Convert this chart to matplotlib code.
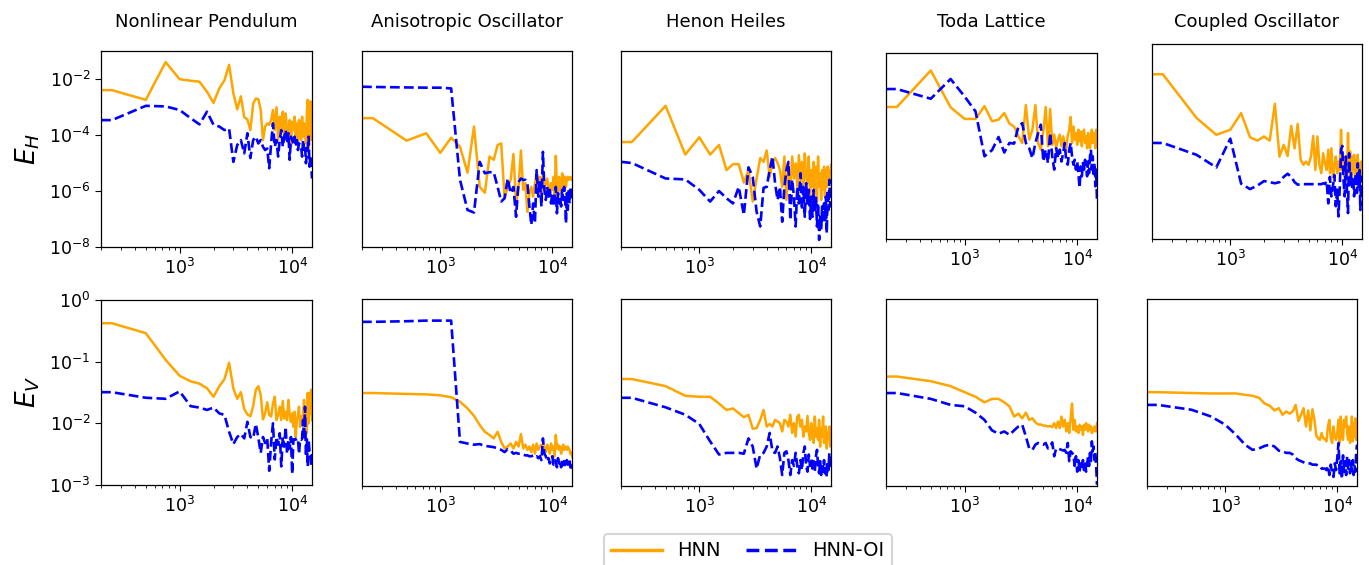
import matplotlib
matplotlib.use('Agg')
import matplotlib.pyplot as plt
import matplotlib.ticker as mticker
import numpy as np

# training set sizes (x axis)
steps = [200, 250, 500, 750, 1000, 1250, 1500, 1750, 2000, 2250,
         2500, 2750, 3000, 3250, 3500, 3750, 4000, 4250, 4500, 4750,
         5000, 5250, 5500, 5750, 6000, 6250, 6500, 6750, 7000, 7250,
         7500, 7750, 8000, 8250, 8500, 8750, 9000, 9250, 9500, 9750,
         10000, 10250, 10500, 10750, 11000, 11250, 11500, 11750, 12000, 12250,
         12500, 12750, 13000, 13250, 13500, 13750, 14000, 14250, 14500, 14750,
         15000]

systems = ['Nonlinear Pendulum', 'Anisotropic Oscillator', 'Henon Heiles',
           'Toda Lattice', 'Coupled Oscillator']

# ---- E_H (top row) ----
eh_hnn_np = [4e-3, 4e-3, 1.8e-3, 4e-2, 9.8e-3, 8.7e-3, 8e-3, 3.5e-3, 1.4e-3, 4.6e-3,
             9e-3, 3.2e-2, 3.1e-3, 8.3e-4, 2.4e-3, 4.3e-4, 3.6e-4, 1.5e-4, 1.3e-3, 2e-3,
             1.9e-3, 8e-4, 6.6e-5, 2e-4, 2.6e-4, 2.3e-4, 3.4e-4, 7.8e-4, 1.5e-4, 9.8e-4,
             6.6e-5, 4.5e-4, 1.7e-4, 6.8e-4, 8.7e-5, 5.9e-4, 1.5e-4, 6.6e-5, 3.4e-4, 3.8e-5,
             3e-4, 1.5e-4, 4.5e-4, 8.7e-5, 2.6e-4, 5e-5, 3.4e-4, 1.5e-4, 6.6e-5, 4.5e-4,
             8.7e-5, 2.6e-4, 1.5e-4, 5e-5, 5.9e-4, 1.8e-3, 2.2e-5, 1.5e-4, 1.6e-3, 6.6e-5,
             1.2e-3]
eh_oi_np = [3.4e-4, 3.4e-4, 1.1e-3, 1.05e-3, 7.8e-4, 4e-4, 2.4e-4, 6.8e-4, 2.3e-4, 2e-4,
            1.5e-4, 1.7e-4, 1.1e-5, 4.4e-5, 6.6e-5, 2.2e-5, 1.15e-4, 1.5e-5, 6.6e-5, 8.7e-5,
            5e-5, 6.6e-5, 3.8e-5, 2.9e-5, 3.3e-5, 6.5e-6, 5e-5, 2.6e-4, 3.8e-5, 6.6e-5,
            1.7e-5, 6.6e-5, 1.5e-4, 3.8e-5, 8.7e-5, 1.5e-4, 5e-5, 1.15e-4, 1.3e-5, 8.7e-5,
            6.6e-5, 5e-5, 8.7e-5, 3.8e-5, 6.6e-5, 2.9e-5, 5e-5, 4.4e-5, 3.8e-5, 1.7e-5,
            6.6e-5, 2.9e-5, 4.4e-5, 9.8e-6, 2.2e-5, 3.8e-5, 8.7e-5, 7.4e-6, 1.7e-5, 9.8e-6,
            2.8e-6]

eh_hnn_ao = [4e-4, 4e-4, 6.3e-5, 1.15e-4, 2.3e-5, 8e-5, 3.8e-5, 4.5e-6, 2e-4, 1.4e-6,
             8.7e-7, 1.7e-5, 1.3e-5, 4.4e-5, 5e-5, 5.5e-7, 1.4e-6, 2.5e-6, 2.1e-5, 3.6e-7,
             1.4e-6, 2.8e-5, 1.1e-6, 1.9e-6, 1.8e-7, 8.3e-7, 1.4e-6, 6.3e-7, 1.9e-6, 4.3e-6,
             1.4e-6, 3.2e-6, 6.3e-7, 4.3e-6, 1.1e-6, 1.9e-6, 2.8e-6, 1.4e-6, 6.3e-7, 1.9e-6,
             1.1e-6, 3.2e-6, 4.8e-7, 1.8e-5, 1.4e-6, 6.3e-7, 3.2e-6, 1.9e-6, 8.3e-7, 4.3e-6,
             2.5e-6, 1.1e-6, 3.2e-6, 1.4e-6, 2.8e-6, 3.2e-6, 2.5e-6, 2.8e-6, 3.2e-6, 2.5e-6,
             2.8e-6]
eh_oi_ao = [5.3e-3, 5.2e-3, 5e-3, 4.9e-3, 4.9e-3, 4.6e-3, 2.5e-6, 2.1e-7, 1.7e-7, 1.1e-5,
            4.3e-6, 4.7e-6, 4.7e-6, 1.4e-6, 4.2e-7, 5.5e-7, 2.8e-6, 8.3e-7, 1.4e-6, 1.2e-7,
            2.1e-6, 2.8e-6, 2.5e-6, 2.5e-6, 1.9e-6, 2.8e-7, 6.1e-8, 3.6e-7, 7.1e-8, 5.6e-6,
            6.3e-7, 2.5e-6, 2.8e-7, 2.5e-5, 1.1e-6, 4.8e-7, 1.4e-6, 6.3e-7, 1.1e-6, 3.6e-7,
            8.3e-7, 2.8e-7, 6.3e-7, 1.4e-6, 1.6e-7, 8.3e-7, 3.6e-7, 6.3e-7, 2.8e-7, 1.1e-6,
            4.8e-7, 1.4e-6, 6.3e-7, 7.1e-8, 8.3e-7, 2.1e-7, 1.1e-6, 3.6e-7, 1.4e-6, 4.8e-7,
            8.3e-7]

eh_hnn_hh = [5.6e-5, 5.6e-5, 1.1e-3, 2e-5, 8.3e-5, 2e-5, 4.4e-5, 5.6e-6, 9.1e-6, 9.1e-6,
             2e-6, 5.6e-6, 4.2e-7, 2.8e-6, 1.5e-5, 1.1e-5, 2.8e-5, 3.2e-6, 1.1e-5, 1.5e-5,
             1e-5, 5.6e-6, 1.4e-6, 1.7e-5, 4.8e-7, 9.8e-6, 1.1e-6, 1.7e-5, 2.8e-6, 9.8e-6,
             1.4e-6, 1.9e-5, 2.5e-6, 1.1e-5, 1.1e-6, 2.2e-5, 3.2e-6, 1.9e-6, 1.7e-5, 6.3e-7,
             5.6e-6, 1.4e-6, 1.1e-5, 8.3e-7, 7.4e-6, 4.2e-7, 1.7e-5, 1.4e-6, 4.3e-6, 4.8e-7,
             5.6e-6, 1.1e-6, 7.4e-6, 6.3e-7, 5.6e-6, 1.4e-6, 7.4e-6, 3.2e-6, 5.6e-6, 1.9e-6,
             8.5e-6]
eh_oi_hh = [1.1e-5, 1e-5, 2.8e-6, 2.6e-6, 1.1e-6, 4.2e-7, 1e-6, 5.5e-7, 3.6e-7, 1.4e-6,
            1.4e-7, 7e-6, 3.2e-6, 1.8e-7, 5.4e-8, 1.3e-6, 1.4e-6, 5.6e-6, 1.7e-5, 1.9e-6,
            4.8e-7, 1.4e-6, 8e-8, 1.4e-6, 5.6e-6, 1.1e-5, 9.1e-8, 2.5e-6, 6.3e-7, 5.4e-8,
            1.4e-6, 3.6e-7, 4.3e-6, 2.1e-7, 1.4e-6, 1.2e-7, 1.9e-6, 3.6e-7, 1.1e-6, 1e-7,
            6.3e-7, 1.2e-7, 1.1e-6, 2.1e-7, 6.3e-7, 5.4e-8, 3.6e-7, 1.8e-8, 1.2e-7, 4.1e-8,
            2.8e-7, 7.1e-8, 3.6e-7, 9.1e-8, 6.3e-7, 3.1e-8, 1.1e-6, 2.1e-7, 2.5e-6, 2.8e-7,
            8.3e-7]

eh_hnn_tl = [9.3e-4, 9.3e-4, 2.2e-2, 9e-4, 3.3e-4, 3.3e-4, 1e-3, 2.7e-4, 3.1e-4, 5.5e-4,
             2.2e-4, 1.7e-4, 7.3e-5, 4.1e-5, 1.1e-3, 5.5e-5, 1.3e-4, 1.1e-3, 4.1e-5, 2.3e-5,
             1.1e-4, 9.3e-4, 3.1e-5, 7.8e-4, 3.5e-5, 8.5e-5, 2.6e-5, 5.5e-5, 8.5e-5, 3.1e-5,
             7.3e-5, 4.1e-5, 2.6e-5, 7.8e-5, 1.3e-4, 3.9e-4, 4.1e-5, 1.7e-4, 5.5e-5, 9.8e-5,
             3.5e-5, 1.3e-4, 4.8e-5, 1.1e-4, 3.1e-5, 9.8e-5, 1.3e-4, 4.1e-5, 7.3e-5, 2.6e-5,
             9.8e-5, 5.5e-5, 2.6e-5, 6.3e-5, 1.3e-4, 4.1e-5, 9.8e-5, 5.5e-5, 2.6e-5, 1.3e-4,
             5.5e-5]
eh_oi_tl = [4.4e-3, 4.4e-3, 1.9e-3, 1.05e-2, 2.3e-3, 6.3e-4, 1.3e-5, 2.2e-5, 6.9e-5, 1.8e-5,
            4.1e-5, 3.9e-5, 1.7e-4, 2.3e-4, 4.1e-5, 2.6e-5, 1.1e-5, 4.1e-5, 9.8e-5, 2e-4,
            8.3e-6, 2.3e-5, 7.2e-6, 9.8e-5, 1.3e-5, 4.1e-6, 2.6e-5, 1.1e-5, 2.3e-5, 8.3e-6,
            1.7e-5, 4.1e-5, 8.3e-6, 6.3e-6, 2.3e-5, 4.1e-5, 1.3e-5, 6.3e-6, 9.6e-6, 4.1e-6,
            8.3e-6, 3e-6, 8.3e-7, 5.4e-6, 2.3e-6, 7.2e-6, 4.1e-6, 9.6e-6, 5.4e-6, 2.3e-6,
            8.3e-6, 3e-6, 1.3e-5, 2.3e-5, 4.1e-6, 1.3e-5, 2.3e-6, 7.2e-6, 9.6e-7, 4.1e-6,
            2.6e-7]

eh_hnn_co = [8.2e-3, 8.2e-3, 2.2e-4, 5.5e-5, 8.3e-5, 3.3e-4, 4.5e-5, 3.4e-5, 4.8e-5, 3.4e-5,
             7.1e-4, 9.1e-6, 2.4e-5, 9.5e-6, 1.15e-4, 1.8e-5, 1.35e-4, 6.9e-6, 4.6e-6, 6e-6,
             4.6e-6, 9.1e-6, 5e-5, 3e-6, 4.8e-5, 4.6e-6, 2.3e-6, 1.2e-5, 5.2e-6, 3e-6,
             1.6e-5, 2.3e-6, 1.8e-5, 1.7e-6, 4e-6, 9.1e-6, 2.3e-6, 6e-6, 3e-6, 8.3e-5,
             3e-6, 6.9e-6, 1.7e-6, 9.1e-6, 1.2e-6, 6.3e-5, 2.3e-6, 1.4e-5, 1.35e-6, 9.1e-6,
             3e-6, 1.05e-5, 1e-6, 6.9e-6, 1.7e-6, 1.05e-5, 7.8e-7, 5.2e-6, 2.3e-6, 6e-6,
             1.35e-6]
eh_oi_co = [2.8e-5, 2.8e-5, 1.05e-5, 3.7e-6, 4e-5, 9.6e-7, 6.2e-7, 8.3e-7, 1.2e-6, 1.1e-6,
            1e-6, 1.1e-6, 1.7e-6, 2.2e-6, 1.7e-6, 1.1e-6, 8.9e-7, 9.3e-7, 9.3e-7, 9.3e-7,
            9.3e-7, 9.3e-7, 9.3e-7, 9.3e-7, 9.3e-7, 9.3e-7, 9.3e-7, 1e-6, 9.5e-7, 1.2e-6,
            1.9e-7, 1.7e-6, 3.4e-7, 7.8e-7, 2e-6, 1.5e-7, 5.9e-7, 6.5e-8, 7.8e-7, 1.6e-5,
            2.2e-5, 1.35e-6, 3.4e-7, 9.1e-6, 5.9e-7, 8.5e-8, 1.2e-5, 7.8e-7, 2.3e-6, 5.9e-7,
            1.7e-6, 3.4e-7, 1e-6, 2.3e-6, 4.5e-7, 5.2e-6, 7.8e-7, 3e-6, 1.1e-7, 1.7e-6,
            5.9e-7]

# ---- E_V (bottom row) ----
ev_hnn_np = [0.42, 0.42, 0.29, 0.107, 0.059, 0.048, 0.044, 0.037, 0.027, 0.040,
             0.052, 0.096, 0.037, 0.025, 0.032, 0.017, 0.014, 0.013, 0.019, 0.035,
             0.040, 0.029, 0.0116, 0.0145, 0.022, 0.0137, 0.0129, 0.021, 0.027, 0.0113,
             0.0137, 0.0186, 0.0113, 0.023, 0.012, 0.0154, 0.0113, 0.024, 0.0137, 0.0106,
             0.0145, 0.0088, 0.0154, 0.006, 0.0113, 0.0137, 0.0186, 0.0088, 0.0129, 0.01,
             0.0145, 0.024, 0.0113, 0.017, 0.0069, 0.031, 0.01, 0.031, 0.0145, 0.035,
             0.0113]
ev_oi_np = [0.032, 0.032, 0.026, 0.025, 0.033, 0.019, 0.018, 0.0165, 0.018, 0.0145,
            0.0137, 0.0073, 0.0046, 0.006, 0.0067, 0.0057, 0.0106, 0.006, 0.0057, 0.0098,
            0.0059, 0.0033, 0.006, 0.0048, 0.0057, 0.0017, 0.0049, 0.01, 0.0026, 0.006,
            0.0045, 0.0069, 0.002, 0.006, 0.0042, 0.0088, 0.0032, 0.0054, 0.0039, 0.006,
            0.0015, 0.0055, 0.0054, 0.0056, 0.0055, 0.0057, 0.0032, 0.0055, 0.0054, 0.0056,
            0.0113, 0.0054, 0.0186, 0.0029, 0.0055, 0.002, 0.0054, 0.0035, 0.0034, 0.002,
            0.0032]

ev_hnn_ao = [0.031, 0.031, 0.030, 0.0295, 0.0285, 0.0265, 0.0225, 0.0176, 0.0133, 0.0095,
             0.0074, 0.0066, 0.0058, 0.0074, 0.0051, 0.0040, 0.0043, 0.0048, 0.0040, 0.0051,
             0.0043, 0.0068, 0.0040, 0.0046, 0.0038, 0.0043, 0.0035, 0.0046, 0.0033, 0.0048,
             0.0038, 0.0043, 0.0046, 0.0038, 0.0043, 0.0035, 0.0046, 0.0040, 0.0033, 0.0048,
             0.0038, 0.0043, 0.0030, 0.0066, 0.0040, 0.0046, 0.0038, 0.0043, 0.0033, 0.0040,
             0.0046, 0.0038, 0.0043, 0.0040, 0.0038, 0.0043, 0.0040, 0.0038, 0.0033, 0.0035,
             0.0030]
ev_oi_ao = [0.43, 0.43, 0.44, 0.45, 0.45, 0.45, 0.0051, 0.0048, 0.0046, 0.0047,
            0.0044, 0.0043, 0.0042, 0.0040, 0.0038, 0.0035, 0.0039, 0.0037, 0.0033, 0.0034,
            0.0033, 0.0033, 0.0032, 0.0031, 0.0031, 0.0030, 0.0030, 0.0031, 0.0029, 0.0030,
            0.0028, 0.0030, 0.0026, 0.0058, 0.0033, 0.0030, 0.0025, 0.0028, 0.0023, 0.0026,
            0.0030, 0.0022, 0.0026, 0.0025, 0.0020, 0.0028, 0.0023, 0.0025, 0.0020, 0.0026,
            0.0022, 0.0025, 0.0020, 0.0023, 0.0026, 0.0022, 0.0025, 0.0026, 0.0020, 0.0023,
            0.0019]

ev_hnn_hh = [0.052, 0.052, 0.040, 0.028, 0.027, 0.027, 0.021, 0.0166, 0.0175, 0.0148,
             0.0127, 0.0138, 0.0083, 0.0085, 0.0115, 0.0166, 0.009, 0.0099, 0.009, 0.0115,
             0.0108, 0.0102, 0.0075, 0.0115, 0.0108, 0.009, 0.0139, 0.0071, 0.0102, 0.0062,
             0.013, 0.0139, 0.009, 0.0115, 0.0062, 0.009, 0.0075, 0.0133, 0.0071, 0.0055,
             0.0102, 0.0062, 0.0049, 0.013, 0.0062, 0.0085, 0.0055, 0.0115, 0.0043, 0.0085,
             0.0062, 0.013, 0.0049, 0.008, 0.009, 0.004, 0.0071, 0.0062, 0.009, 0.0043,
             0.0085]
ev_oi_hh = [0.026, 0.026, 0.0183, 0.0139, 0.0099, 0.0052, 0.0032, 0.0034, 0.0034, 0.0034,
            0.0033, 0.0058, 0.0043, 0.0019, 0.0032, 0.0034, 0.0043, 0.0071, 0.0036, 0.0034,
            0.0043, 0.0028, 0.0015, 0.0034, 0.0036, 0.0026, 0.0015, 0.0026, 0.0021, 0.0034,
            0.0021, 0.0016, 0.0026, 0.0018, 0.0034, 0.0043, 0.0021, 0.0017, 0.0032, 0.0021,
            0.0028, 0.0019, 0.0025, 0.0017, 0.0030, 0.0038, 0.0021, 0.0016, 0.0025, 0.0015,
            0.0023, 0.0017, 0.0026, 0.0016, 0.0022, 0.0014, 0.0025, 0.0018, 0.0034, 0.0021,
            0.0025]

ev_hnn_tl = [0.057, 0.057, 0.048, 0.040, 0.032, 0.027, 0.022, 0.025, 0.025, 0.022,
             0.019, 0.013, 0.0145, 0.0122, 0.015, 0.0115, 0.0122, 0.0105, 0.0097, 0.0097,
             0.0093, 0.0093, 0.009, 0.0092, 0.0088, 0.0102, 0.0085, 0.0108, 0.0085, 0.013,
             0.009, 0.0115, 0.0075, 0.0102, 0.0071, 0.0122, 0.021, 0.008, 0.0115, 0.0075,
             0.009, 0.0071, 0.0096, 0.008, 0.009, 0.0066, 0.0096, 0.008, 0.0102, 0.0085,
             0.0075, 0.0096, 0.008, 0.009, 0.0071, 0.0085, 0.0075, 0.009, 0.008, 0.0075,
             0.0102]
ev_oi_tl = [0.031, 0.031, 0.025, 0.020, 0.019, 0.015, 0.0115, 0.0078, 0.0069, 0.0075,
            0.0066, 0.0078, 0.009, 0.0096, 0.0062, 0.0040, 0.0038, 0.0046, 0.0049, 0.0047,
            0.0046, 0.0049, 0.0040, 0.0043, 0.005, 0.0030, 0.0040, 0.0040, 0.0039, 0.0038,
            0.0037, 0.0038, 0.0034, 0.0049, 0.0025, 0.0036, 0.0034, 0.0032, 0.0021, 0.0030,
            0.0017, 0.0026, 0.0017, 0.0023, 0.0019, 0.0026, 0.0018, 0.0025, 0.0017, 0.0022,
            0.0030, 0.0021, 0.0034, 0.0025, 0.0052, 0.0036, 0.0043, 0.0026, 0.0034, 0.0021,
            0.00105]

ev_hnn_co = [0.032, 0.032, 0.031, 0.0305, 0.0305, 0.0305, 0.029, 0.028, 0.026, 0.021,
             0.0193, 0.0163, 0.0177, 0.0139, 0.0157, 0.0145, 0.0157, 0.020, 0.011, 0.0139,
             0.0177, 0.009, 0.0163, 0.0078, 0.017, 0.0115, 0.0064, 0.0058, 0.0055, 0.0071,
             0.0058, 0.0057, 0.0052, 0.009, 0.0115, 0.0058, 0.0049, 0.009, 0.0062, 0.0055,
             0.0071, 0.0115, 0.0049, 0.013, 0.0062, 0.0055, 0.0115, 0.009, 0.013, 0.0071,
             0.0055, 0.009, 0.0049, 0.0062, 0.013, 0.0052, 0.0102, 0.0062, 0.0122, 0.0055,
             0.008]
ev_oi_co = [0.020, 0.020, 0.0167, 0.013, 0.0096, 0.0066, 0.0046, 0.0038, 0.0040, 0.0044,
            0.0046, 0.0043, 0.0037, 0.0036, 0.0034, 0.0034, 0.0032, 0.0028, 0.0026, 0.0025,
            0.0024, 0.0023, 0.0023, 0.0023, 0.0022, 0.0022, 0.0022, 0.0021, 0.0021, 0.0019,
            0.0019, 0.0019, 0.0018, 0.0021, 0.0015, 0.0022, 0.0016, 0.0014, 0.0023, 0.0018,
            0.0028, 0.0049, 0.0016, 0.0025, 0.0013, 0.0031, 0.0017, 0.0025, 0.0015, 0.0030,
            0.0018, 0.0026, 0.0016, 0.0023, 0.0018, 0.0026, 0.0015, 0.0021, 0.0017, 0.0034,
            0.0046]

top_hnn = [eh_hnn_np, eh_hnn_ao, eh_hnn_hh, eh_hnn_tl, eh_hnn_co]
top_oi = [eh_oi_np, eh_oi_ao, eh_oi_hh, eh_oi_tl, eh_oi_co]
bot_hnn = [ev_hnn_np, ev_hnn_ao, ev_hnn_hh, ev_hnn_tl, ev_hnn_co]
bot_oi = [ev_oi_np, ev_oi_ao, ev_oi_hh, ev_oi_tl, ev_oi_co]

W, H = 1369, 565
fig = plt.figure(figsize=(W / 100, H / 100), dpi=100)

# axes boxes in pixels: left, top, right, bottom
top_boxes = [(101, 51, 312, 247), (362, 51, 572, 247), (621, 51, 831, 247),
             (886, 53, 1097, 239), (1152, 44, 1362, 239)]
bot_boxes = [(101, 300, 312, 485), (362, 299, 572, 486), (621, 299, 831, 486),
             (886, 299, 1097, 486), (1147, 299, 1357, 486)]


def px_axes(box):
    l, t, r, b = box
    return fig.add_axes([l / W, 1 - b / H, (r - l) / W, (b - t) / H])


def style_ax(ax, ylim, yticks, show_y):
    ax.set_xscale('log')
    ax.set_yscale('log')
    ax.set_xlim(200, 15000)
    ax.set_ylim(*ylim)
    ax.xaxis.set_major_locator(mticker.FixedLocator([1e3, 1e4]))
    ax.tick_params(axis='x', which='major', labelsize=12.5, length=4)
    ax.tick_params(axis='x', which='minor', length=2.5)
    if show_y:
        ax.yaxis.set_major_locator(mticker.FixedLocator(yticks))
        ax.yaxis.set_minor_locator(mticker.NullLocator())
        ax.tick_params(axis='y', labelsize=12.5, length=4)
    else:
        ax.yaxis.set_major_locator(mticker.NullLocator())
        ax.yaxis.set_minor_locator(mticker.NullLocator())
    for sp in ax.spines.values():
        sp.set_linewidth(0.9)


handles = None
for j in range(5):
    ax = px_axes(top_boxes[j])
    h1, = ax.plot(steps, top_hnn[j], color='orange', lw=1.8, label='HNN')
    h2, = ax.plot(steps, top_oi[j], color='blue', lw=1.9, ls='--', label='HNN-OI')
    style_ax(ax, (1e-8, 1e-1), [1e-8, 1e-6, 1e-4, 1e-2], j == 0)
    handles = [h1, h2]

    ax = px_axes(bot_boxes[j])
    ax.plot(steps, bot_hnn[j], color='orange', lw=1.8)
    ax.plot(steps, bot_oi[j], color='blue', lw=1.9, ls='--')
    style_ax(ax, (1e-3, 1e0), [1e-3, 1e-2, 1e-1, 1e0], j == 0)

    cx = (top_boxes[j][0] + top_boxes[j][2]) / 2
    fig.text(cx / W, 1 - 22 / H, systems[j], ha='center', va='center', fontsize=13)

fig.text(28 / W, 1 - 149 / H, r'$E_H$', rotation=90, ha='center', va='center', fontsize=19)
fig.text(28 / W, 1 - 392 / H, r'$E_V$', rotation=90, ha='center', va='center', fontsize=19)

leg = fig.legend(handles, ['HNN', 'HNN-OI'], loc='upper center', ncol=2,
                 bbox_to_anchor=(748 / W, 1 - 524 / H), fontsize=14,
                 handlelength=2.6, columnspacing=1.3, frameon=True, fancybox=True)
leg.get_frame().set_linewidth(1.5)
for ln in leg.get_lines():
    ln.set_linewidth(2.5)

fig.savefig('out.png', dpi=100)
